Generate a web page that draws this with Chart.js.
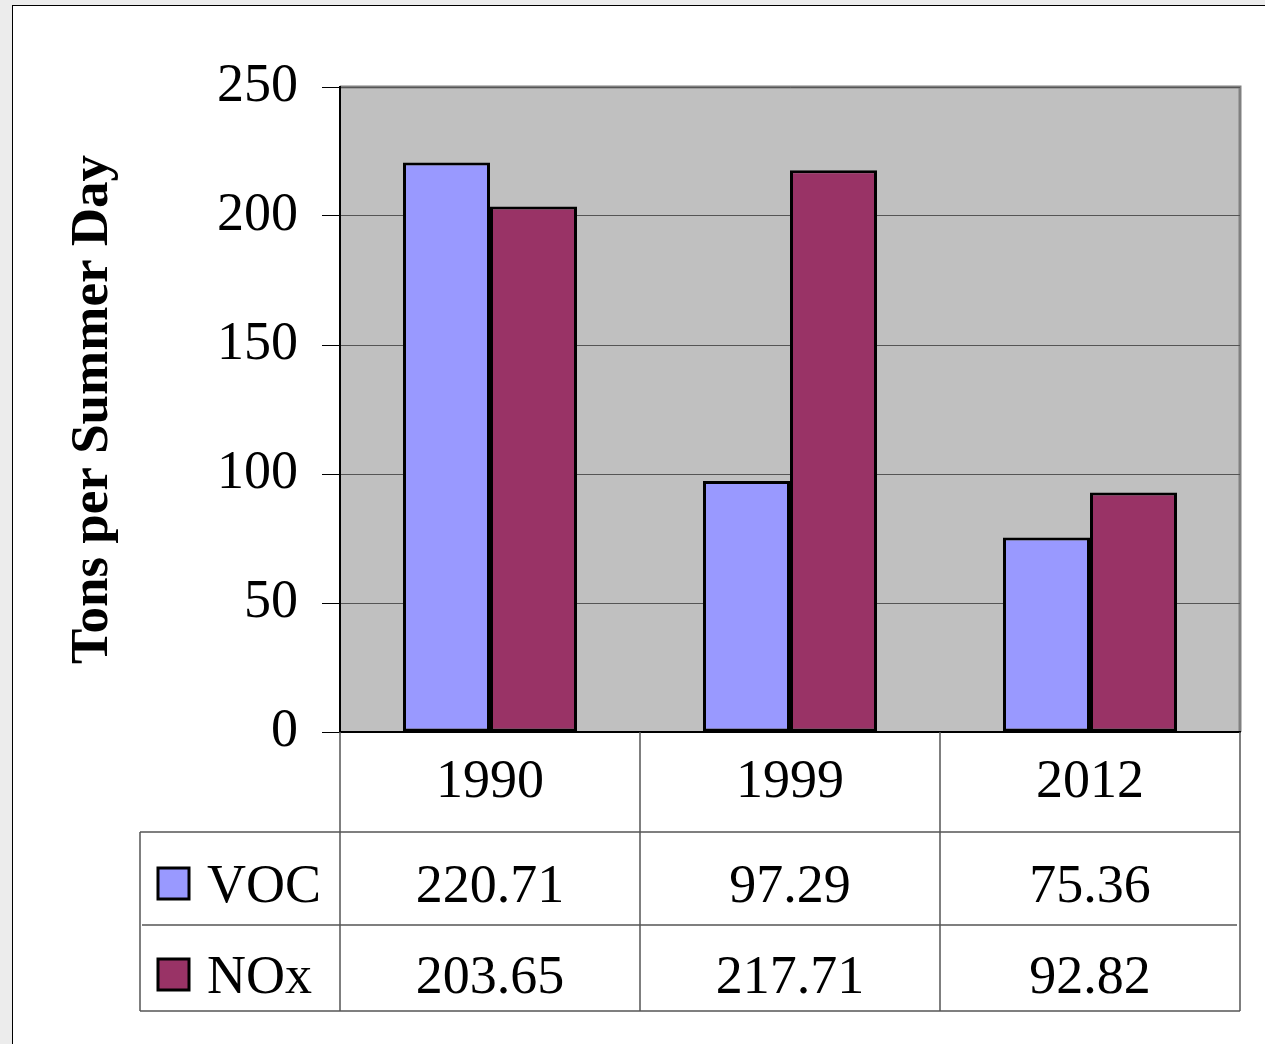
<!DOCTYPE html>
<html>
<head>
<meta charset="utf-8">
<script src="https://cdn.jsdelivr.net/npm/chart.js@4.4.1/dist/chart.umd.min.js"></script>
<style>
    html, body { margin: 0; padding: 0; background: #ececec; overflow: hidden; }
    #frame { position: absolute; left: 12px; top: 5px; width: 1265px; height: 1060px;
             background: #ffffff; border: 1px solid #000; }
    #wrap { position: absolute; left: 0; top: 0; width: 1265px; height: 1044px; }
</style>
</head>
<body>
<div id="frame"></div>
<div id="wrap"><canvas id="emissions-chart" width="1265" height="1044"></canvas></div>
<script>
    // Chart data
    var years = ['1990', '1999', '2012'];
    var vocValues = [220.71, 97.29, 75.36];
    var noxValues = [203.65, 217.71, 92.82];
    var seriesNames = ['VOC', 'NOx'];
    var seriesColors = ['#9999FF', '#993366'];

    var FONT = "'Liberation Serif', 'Times New Roman', serif";

    // Plot background + gray frame on top/right
    var plotBackground = {
        id: 'plotBackground',
        beforeDraw: function(chart) {
            var a = chart.chartArea, ctx = chart.ctx;
            ctx.save();
            ctx.fillStyle = '#C0C0C0';
            ctx.fillRect(a.left, a.top, a.right - a.left, a.bottom - a.top);
            ctx.strokeStyle = '#808080';
            ctx.lineWidth = 3;
            ctx.beginPath();
            ctx.moveTo(a.left, a.top);
            ctx.lineTo(a.right, a.top);
            ctx.lineTo(a.right, a.bottom);
            ctx.stroke();
            ctx.restore();
        }
    };

    // Data table under the x axis
    var dataTable = {
        id: 'dataTable',
        afterDraw: function(chart) {
            var ctx = chart.ctx;
            var x = chart.scales.x;
            var half = x.width / years.length / 2;
            var headTop = chart.chartArea.bottom;
            var row1 = x.bottom;
            var row2 = row1 + 93;
            var row3 = row2 + 86;
            var tableLeft = 140;
            var rows = [vocValues, noxValues];
            var baselines = [row1 + 70, row2 + 68];

            ctx.save();
            ctx.strokeStyle = '#555';
            ctx.lineWidth = 1.5;
            ctx.beginPath();
            // horizontal lines
            ctx.moveTo(tableLeft, row1); ctx.lineTo(x.right, row1);
            ctx.moveTo(tableLeft + 2, row2); ctx.lineTo(x.right - 3, row2);
            ctx.moveTo(tableLeft, row3); ctx.lineTo(x.right, row3);
            // vertical lines
            ctx.moveTo(tableLeft, row1); ctx.lineTo(tableLeft, row3);
            for (var i = 0; i < years.length; i++) {
                var cx = x.getPixelForValue(i);
                ctx.moveTo(cx - half, headTop); ctx.lineTo(cx - half, row3);
                if (i === years.length - 1) {
                    ctx.moveTo(cx + half, headTop); ctx.lineTo(cx + half, row3);
                }
            }
            ctx.stroke();

            ctx.font = '54px ' + FONT;
            ctx.fillStyle = '#000';
            ctx.textBaseline = 'alphabetic';
            for (var r = 0; r < rows.length; r++) {
                var base = baselines[r];
                // legend swatch
                ctx.fillStyle = seriesColors[r];
                ctx.fillRect(158, base - 34, 31, 31);
                ctx.strokeStyle = '#000';
                ctx.lineWidth = 3;
                ctx.strokeRect(158, base - 34, 31, 31);
                ctx.fillStyle = '#000';
                ctx.textAlign = 'left';
                ctx.fillText(seriesNames[r], 207, base);
                ctx.textAlign = 'center';
                for (var c = 0; c < years.length; c++) {
                    ctx.fillText(rows[r][c].toFixed(2), x.getPixelForValue(c), base);
                }
            }
            ctx.restore();
        }
    };

    var ctx = document.getElementById('emissions-chart').getContext('2d');

    var chartConfig = {
        type: 'bar',
        data: {
            labels: years,
            datasets: [
                {
                    label: seriesNames[0],
                    data: vocValues,
                    backgroundColor: seriesColors[0],
                    borderColor: '#000',
                    borderWidth: 3,
                    borderSkipped: false
                },
                {
                    label: seriesNames[1],
                    data: noxValues,
                    backgroundColor: seriesColors[1],
                    borderColor: '#000',
                    borderWidth: 3,
                    borderSkipped: false
                }
            ]
        },
        options: {
            responsive: false,
            animation: false,
            devicePixelRatio: 1,
            datasets: {
                bar: {
                    barPercentage: 1,
                    categoryPercentage: 0.58
                }
            },
            layout: {
                padding: { left: 12, top: 87, right: 25, bottom: 212 }
            },
            plugins: {
                legend: { display: false },
                tooltip: { enabled: false }
            },
            scales: {
                x: {
                    grid: { display: false },
                    border: { display: true, color: '#000', width: 2 },
                    ticks: {
                        color: '#000',
                        padding: 10,
                        font: { family: FONT, size: 54 }
                    },
                    afterFit: function(scale) { scale.height = 100; }
                },
                y: {
                    min: 0,
                    max: 250,
                    grid: {
                        color: '#555',
                        lineWidth: 1,
                        tickColor: '#000',
                        tickLength: 18
                    },
                    border: { display: true, color: '#000', width: 2 },
                    ticks: {
                        stepSize: 50,
                        color: '#000',
                        padding: 24,
                        font: { family: FONT, size: 54 }
                    },
                    title: {
                        display: true,
                        text: 'Tons per Summer Day',
                        color: '#000',
                        padding: { top: 50 },
                        font: { family: FONT, size: 53, weight: 'bold' }
                    },
                    afterFit: function(scale) { scale.width = 328; }
                }
            }
        },
        plugins: [plotBackground, dataTable]
    };

    new Chart(ctx, chartConfig);
</script>
</body>
</html>
